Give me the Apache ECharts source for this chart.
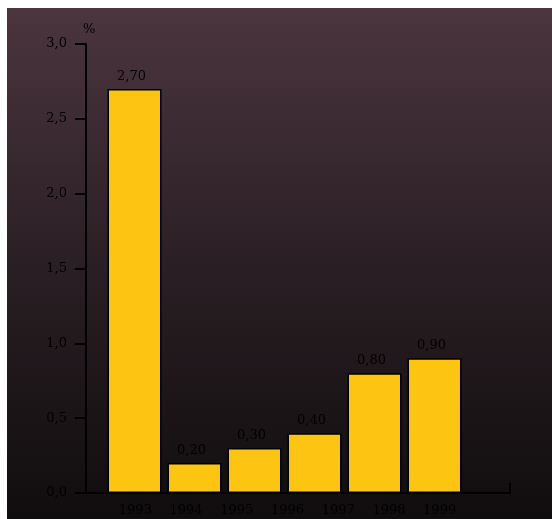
<!DOCTYPE html>
<html>
<head>
<meta charset="utf-8">
<script src="https://cdn.jsdelivr.net/npm/echarts@6/dist/echarts.min.js"></script>
<style>
  html, body { margin: 0; padding: 0; background: #ffffff; }
  #chart { width: 552px; height: 519px; }
</style>
</head>
<body>
<div id="chart"></div>
<script>
// Annual rate, percent
const barYears = ['1993', '1994', '1995', '1996', '1997', '1998'];
const barValues = [2.70, 0.20, 0.30, 0.40, 0.80, 0.90];
const yearTickLabels = ['1993', '1994', '1995', '1996', '1997', '1998', '1999'];
const yTicks = { min: 0, max: 3, step: 0.5 };

const FONT = '"DejaVu Serif", serif';
const INK = '#000000';
const comma = (v, d) => v.toFixed(d).replace('.', ',');

const chart = echarts.init(document.getElementById('chart'), null, { renderer: 'canvas' });

const gridTop = 44, gridBottom = 26;

chart.setOption({
  backgroundColor: '#ffffff',
  animation: false,
  graphic: [{
    type: 'rect',
    left: 7, top: 8,
    shape: { width: 545, height: 511 },
    silent: true,
    z: -10,
    style: {
      fill: new echarts.graphic.LinearGradient(0, 0, 0, 1, [
        { offset: 0, color: '#4b353e' },
        { offset: 0.5, color: '#2a1f24' },
        { offset: 1, color: '#100d0e' }
      ])
    }
  }],
  grid: [
    { left: 86, right: 42, top: gridTop, bottom: gridBottom },
    { left: 104.5, width: 360, top: gridTop, bottom: gridBottom },
    { left: 110, width: 355, top: gridTop, bottom: gridBottom }
  ],
  xAxis: [
    {
      gridIndex: 0, type: 'category', data: ['', ''], boundaryGap: false,
      axisLine: { show: true, lineStyle: { color: INK, width: 2 } },
      axisTick: { show: true, inside: true, length: 10, interval: (i) => i === 1,
                  lineStyle: { color: INK, width: 2 } },
      axisLabel: { show: false }, splitLine: { show: false }
    },
    {
      gridIndex: 1, type: 'category', data: barYears,
      axisLine: { show: false }, axisTick: { show: false }, axisLabel: { show: false }
    },
    {
      gridIndex: 2, type: 'category', data: yearTickLabels,
      axisLine: { show: false }, axisTick: { show: false },
      axisLabel: { show: true, interval: 0, margin: 11, color: INK, fontFamily: FONT, fontSize: 13 }
    }
  ],
  yAxis: [
    {
      gridIndex: 0, type: 'value', min: yTicks.min, max: yTicks.max, interval: yTicks.step,
      name: '%', nameLocation: 'end', nameGap: 8,
      nameTextStyle: { color: INK, fontFamily: FONT, fontSize: 13, align: 'left', padding: [0, 0, 0, -3] },
      axisLine: { show: true, lineStyle: { color: INK, width: 2 } },
      axisTick: { show: true, length: 11, lineStyle: { color: INK, width: 2 } },
      axisLabel: { margin: 19, color: INK, fontFamily: FONT, fontSize: 13,
                   formatter: (v) => comma(v, 1) },
      splitLine: { show: false }
    },
    { gridIndex: 1, type: 'value', min: yTicks.min, max: yTicks.max, show: false },
    { gridIndex: 2, type: 'value', min: yTicks.min, max: yTicks.max, show: false }
  ],
  series: [{
    type: 'bar',
    xAxisIndex: 1, yAxisIndex: 1,
    data: barValues,
    barWidth: 54,
    itemStyle: { color: '#fec412', borderColor: '#000000', borderWidth: 1.5 },
    label: {
      show: true, position: 'top', distance: 6, offset: [-3, 0],
      color: INK, fontFamily: FONT, fontSize: 13,
      formatter: (p) => comma(p.value, 2)
    }
  }]
});
</script>
</body>
</html>
